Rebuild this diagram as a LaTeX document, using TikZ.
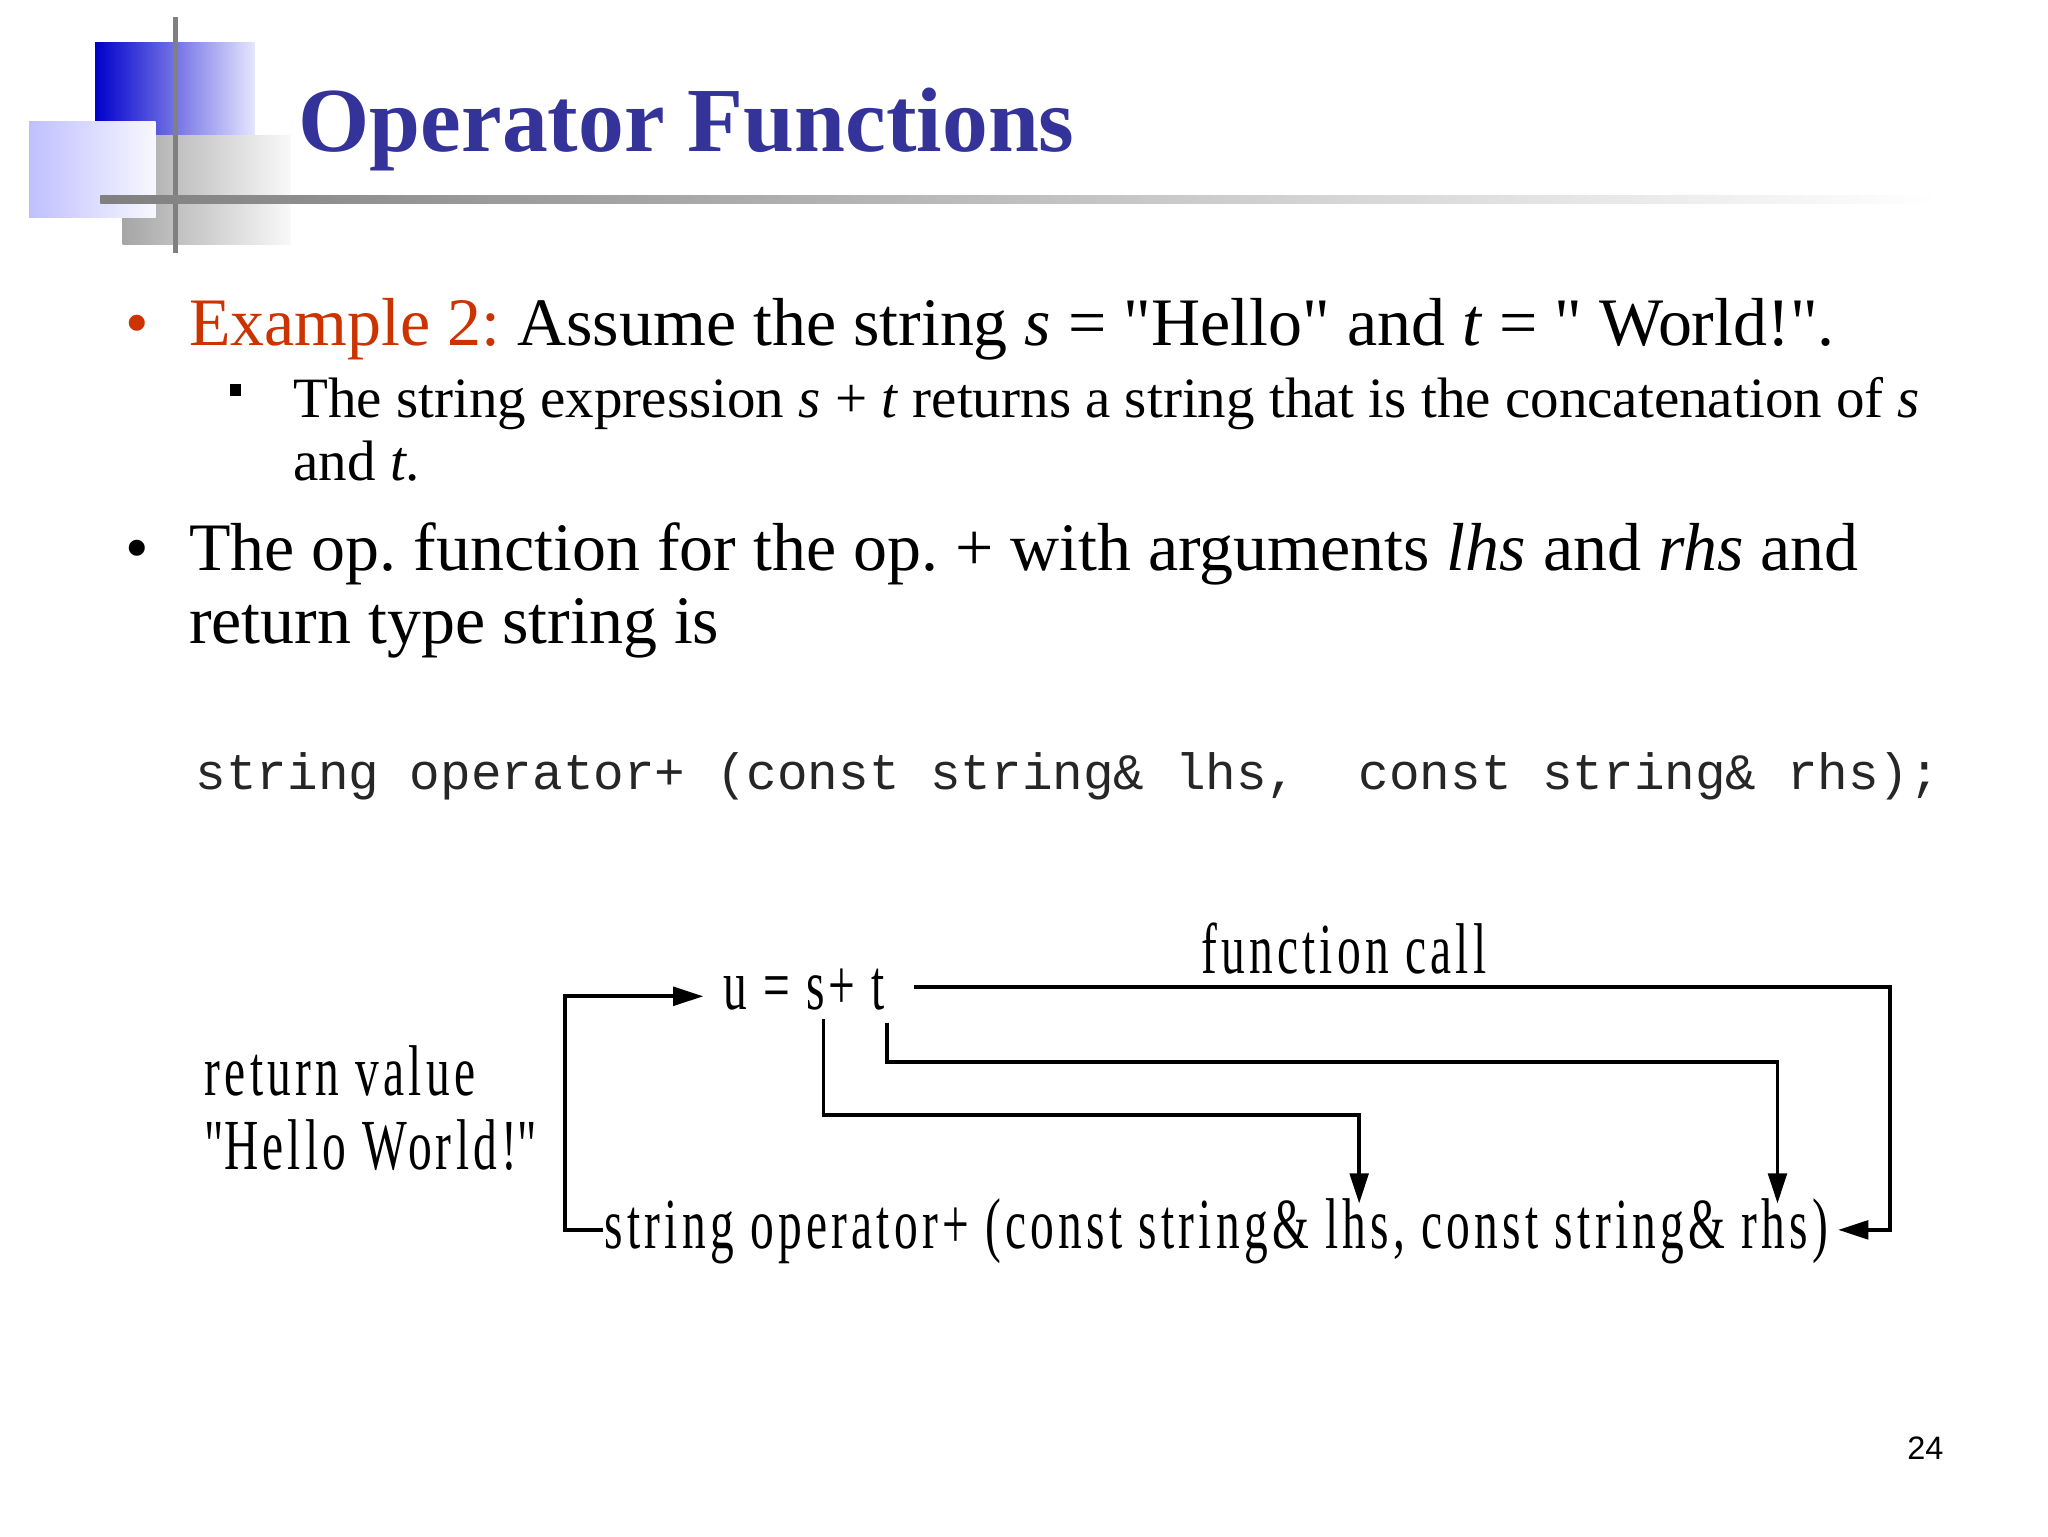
\documentclass[tikz,border=0pt]{standalone}
\usepackage{fontspec}
\setmainfont{Liberation Serif}
\setmonofont{Liberation Mono}
\setsansfont{Liberation Sans}
\newfontfamily\dgfont[LetterSpace=9]{Liberation Serif}
\newfontfamily\plainserif{Liberation Serif}
\usetikzlibrary{arrows.meta}
\definecolor{navy}{RGB}{51,51,153}
\definecolor{orng}{RGB}{204,51,0}
\newcommand{\qq}{{\plainserif\symbol{34}}}
\frenchspacing
\tikzset{
  conn/.style={line width=1.6pt},
  arr/.style={conn,-{Triangle[length=13pt,width=8pt]}},
  dg/.style={anchor=base west,inner sep=0pt,font=\dgfont\fontsize{31}{31}\selectfont,xscale=0.66},
  body/.style={anchor=base west,inner sep=0pt},
}
\begin{document}
\begin{tikzpicture}[x=0.02cm,y=-0.02cm]
\useasboundingbox[fill=white] (0,0) rectangle (1552,1164);
% logo
\shade[left color=blue!80!black,right color=blue!10] (72,32) rectangle (193,130);
\shade[left color=gray!70,right color=gray!5] (93,103) rectangle (220,185);
\shade[left color=blue!25,right color=blue!3] (22,92) rectangle (118,165);
\draw[gray,line width=2.5pt] (133,13) -- (133,192);
\shade[left color=gray,right color=white] (76,148) rectangle (1470,154);
\node[body,text=navy,font=\fontsize{39.5}{39.5}\selectfont\bfseries] (title) at (226,115) {Operator Functions};
% bullets
\node[body,text=orng,font=\fontsize{29}{29}\selectfont] (b1) at (95,262) {•};
\node[body,font=\fontsize{29.3}{29.3}\selectfont] (t1) at (143,262) {\textcolor{orng}{Example 2:}\ Assume the string \textit{s} = \qq Hello\qq{} and \textit{t} = \qq{} World!\qq.};
\fill (174,291) rectangle (183,300);
\node[body,font=\fontsize{24.6}{24.6}\selectfont] (t2) at (222,316) {The string expression \textit{s} + \textit{t} returns a string that is the concatenation of \textit{s}};
\node[body,font=\fontsize{24.6}{24.6}\selectfont] (t2b) at (222,364) {and \textit{t}.};
\node[body,font=\fontsize{29}{29}\selectfont] (b3) at (95,432) {•};
\node[body,font=\fontsize{29.3}{29.3}\selectfont] (t3) at (143,432) {The op. function for the op. + with arguments \textit{lhs} and \textit{rhs} and};
\node[body,font=\fontsize{29.3}{29.3}\selectfont] (t3b) at (143,488) {return type string is};
\node[body,text=black!85,font=\fontsize{22}{22}\selectfont\ttfamily] (code) at (148,598) {string operator+ (const string\& lhs,~ const string\& rhs);};
% diagram
\node[dg] (u) at (548,765) {u = s+ t};
\node[dg] (fc) at (910,738) {function call};
\node[dg] (rv) at (155,830) {return value};
\node[dg] (hw) at (155,886) {\qq Hello World!\qq};
\node[dg] (op) at (458,946) {string operator+ (const string\& lhs, const string\& rhs)};
\coordinate (a0) at (457,932);
\coordinate (a1) at (533,755);
\draw[arr] (a0) -- (428,932) -- (428,755) -- (a1);
\coordinate (f0) at (693,748);
\coordinate (f1) at (1393,932);
\draw[arr] (f0) -- (1432,748) -- (1432,932) -- (f1);
\coordinate (t0) at (672,775);
\coordinate (t1e) at (1347,912);
\draw[arr] (t0) -- (672,805) -- (1347,805) -- (t1e);
\coordinate (s0) at (624,772);
\coordinate (s1) at (1030,912);
\draw[arr] (s0) -- (624,845) -- (1030,845) -- (s1);
\node[body,font=\fontsize{14}{14}\selectfont\sffamily] (pg) at (1445,1106) {24};
\end{tikzpicture}
\end{document}
